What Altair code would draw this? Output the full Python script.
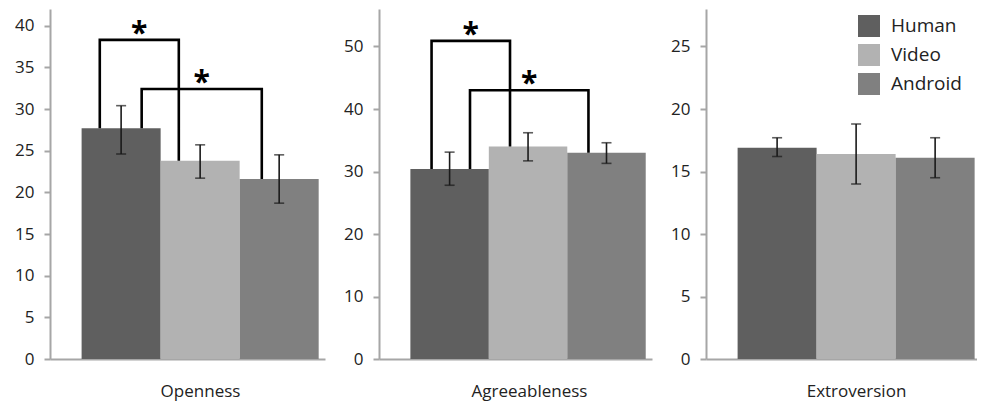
import altair as alt
import pandas as pd

traits = ["Openness", "Agreeableness", "Extroversion"]
conditions = ["Human", "Video", "Android"]
colors = ["#5f5f5f", "#b2b2b2", "#808080"]
positions = [0, 1, 2]

means = {
    "Openness": [27.7, 23.8, 21.6],
    "Agreeableness": [30.4, 34.0, 33.0],
    "Extroversion": [16.9, 16.4, 16.1],
}
err_low = {
    "Openness": [24.6, 21.7, 18.7],
    "Agreeableness": [27.8, 31.7, 31.3],
    "Extroversion": [16.2, 14.0, 14.5],
}
err_high = {
    "Openness": [30.4, 25.7, 24.5],
    "Agreeableness": [33.1, 36.2, 34.6],
    "Extroversion": [17.7, 18.8, 17.7],
}
y_max = {"Openness": 42, "Agreeableness": 56, "Extroversion": 28}
y_ticks = {
    "Openness": [0, 5, 10, 15, 20, 25, 30, 35, 40],
    "Agreeableness": [0, 10, 20, 30, 40, 50],
    "Extroversion": [0, 5, 10, 15, 20, 25],
}
# significance brackets: (left bar, right bar, left leg x, right leg x, top value)
brackets = {
    "Openness": [(0, 1, -0.27, 0.73, 38.3), (0, 2, 0.26, 1.78, 32.4)],
    "Agreeableness": [(0, 1, -0.23, 0.77, 50.9), (0, 2, 0.26, 1.77, 43.0)],
    "Extroversion": [],
}

panel_width = {"Openness": 275, "Agreeableness": 273, "Extroversion": 271}
x_domain_max = {"Openness": 2.58, "Agreeableness": 2.58, "Extroversion": 2.53}

FONT = "Open Sans"
AXIS_GRAY = "#a6a6a6"
TEXT = "#222222"


def panel(trait, show_legend):
    df = pd.DataFrame({
        "condition": conditions,
        "pos": positions,
        "x0": [p - 0.5 for p in positions],
        "x1": [p + 0.5 for p in positions],
        "mean": means[trait],
        "lo": err_low[trait],
        "hi": err_high[trait],
    })
    xs = alt.Scale(domain=[-0.9, x_domain_max[trait]], nice=False, zero=False, padding=0)
    ys = alt.Scale(domain=[0, y_max[trait]], nice=False, padding=0)
    x_axis = alt.Axis(
        title=trait, labels=False, ticks=False, grid=False,
        domainColor=AXIS_GRAY, domainWidth=2,
        titleFont=FONT, titleFontSize=17, titleFontWeight="normal",
        titleColor=TEXT, titleX=150, titleY=24, titleBaseline="top",
    )
    y_axis = alt.Axis(
        title=None, values=y_ticks[trait], grid=False,
        domainColor=AXIS_GRAY, domainWidth=2,
        tickColor=AXIS_GRAY, tickWidth=2, tickSize=6,
        labelPadding=10, labelFont=FONT, labelFontSize=17, labelColor=TEXT,
        minExtent=40, maxExtent=40,
    )
    if show_legend:
        legend = alt.Legend(
            title=None, orient="none", legendX=152, legendY=6,
            symbolType="square", symbolSize=484, symbolStrokeWidth=0,
            symbolOpacity=1, labelFont=FONT, labelFontSize=19,
            labelColor=TEXT, rowPadding=7, labelOffset=11, padding=0,
        )
    else:
        legend = None
    base = alt.Chart(df)
    bars = base.mark_bar(opacity=1).encode(
        x=alt.X("x0:Q", scale=xs, axis=x_axis),
        x2="x1:Q",
        y=alt.Y("mean:Q", scale=ys, axis=y_axis),
        y2=alt.datum(0),
        color=alt.Color("condition:N", scale=alt.Scale(domain=conditions, range=colors),
                        legend=legend),
    )
    rule = base.mark_rule(color="#1a1a1a", strokeWidth=1.6).encode(
        x=alt.X("pos:Q", scale=xs, axis=x_axis),
        y=alt.Y("lo:Q", scale=ys, axis=y_axis),
        y2="hi:Q",
    )
    cap_lo = base.mark_tick(color="#1a1a1a", orient="horizontal", size=10, thickness=1.6).encode(
        x=alt.X("pos:Q", scale=xs, axis=x_axis),
        y=alt.Y("lo:Q", scale=ys, axis=y_axis),
    )
    cap_hi = base.mark_tick(color="#1a1a1a", orient="horizontal", size=10, thickness=1.6).encode(
        x=alt.X("pos:Q", scale=xs, axis=x_axis),
        y=alt.Y("hi:Q", scale=ys, axis=y_axis),
    )
    layers = [bars, rule, cap_lo, cap_hi]

    line_rows, star_rows = [], []
    for k, (a, b, xl, xr, top) in enumerate(brackets[trait]):
        ma, mb = means[trait][a], means[trait][b]
        pts = [(xl, ma), (xl, top), (xr, top), (xr, mb)]
        for j, (px, py) in enumerate(pts):
            line_rows.append({"bracket": k, "order": j, "bx": px, "by": py})
        star_rows.append({"sx": (xl + xr) / 2, "sy": top, "label": "*"})
    if line_rows:
        ldf = pd.DataFrame(line_rows)
        sdf = pd.DataFrame(star_rows)
        lines = alt.Chart(ldf).mark_line(color="black", strokeWidth=2.6, strokeJoin="miter").encode(
            x=alt.X("bx:Q", scale=xs, axis=x_axis),
            y=alt.Y("by:Q", scale=ys, axis=y_axis),
            detail="bracket:N",
            order="order:Q",
        )
        stars = alt.Chart(sdf).mark_text(
            font=FONT, fontSize=30, fontWeight="bold", color="black",
            baseline="alphabetic", dy=3,
        ).encode(
            x=alt.X("sx:Q", scale=xs, axis=x_axis),
            y=alt.Y("sy:Q", scale=ys, axis=y_axis),
            text="label:N",
        )
        layers += [lines, stars]
    return alt.layer(*layers).properties(width=panel_width[trait], height=350)


charts = [panel(t, t == "Extroversion") for t in traits]
chart = alt.hconcat(*charts, spacing=54, bounds="flush").resolve_scale(
    color="independent"
).properties(
    padding={"left": 2, "top": 1, "right": 0, "bottom": 13},
    background="white",
).configure_view(strokeWidth=0, stroke="transparent")

chart.save("out.html", embed_options={"renderer": "svg", "actions": False})
